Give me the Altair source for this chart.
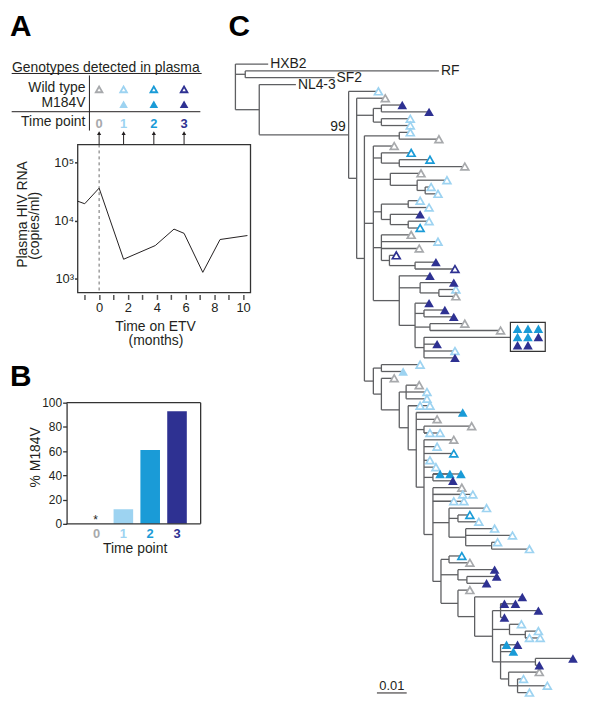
import altair as alt
import pandas as pd

FONT = "Liberation Sans"
INK = "#231f20"

# ---------------- shared categories ----------------
tp_labels = ["0", "1", "2", "3"]
tp_colors = ["#a7a9ac", "#9dd3f1", "#1a9bd7", "#2e3192"]

# ---------------- Panel A : plasma viral load ----------------
vl_months = [-1.5, -1.0, 0.0, 1.7, 3.9, 5.2, 5.9, 7.2, 8.4, 10.3]
vl_copies = [21500, 19400, 36000, 2150, 3700, 7100, 6000, 1280, 4700, 5500]
tp_months = [0.0, 1.7, 3.8, 5.9]
wt_detected = [1, 1, 1, 1]
m184v_detected = [0, 1, 1, 1]

# ---------------- Panel B : % M184V ----------------
pct_m184v = [0, 12, 61, 93]

# ---------------- Panel C : phylogeny ----------------
# internal nodes (depth in 0.001 substitutions/site)
node_id = ["root", "r1", "n1", "n99", "A", "B", "B1", "B2", "D", "C",
           "E", "E2", "E2a", "E3", "E3a", "E3b", "E4", "E4a", "E4b", "E4c",
           "E5", "E5a", "E5b", "E6", "E6a", "E6b", "E7", "E7a", "E7b", "E7c",
           "F", "F1", "F2", "F3", "F3a", "F4", "F5", "F5a", "F6", "F6a",
           "F7", "G1", "G1a", "G1b", "G1c", "G2", "G2a", "G2b", "G2c", "G3",
           "G4", "G5", "G5a", "G5b", "G5c", "G6", "G6a", "G6b", "G6c"]
node_parent = ["", "root", "root", "n1", "n99", "A", "B", "B", "A", "D",
               "D", "E", "E2", "E", "E3", "E3a", "E", "E4", "E4", "E4b",
               "E", "E5", "E5a", "E", "E6", "E6a", "E6", "E7", "E7", "E7",
               "D", "F", "F", "F2", "F3", "F3", "F4", "F5", "F5", "F6",
               "F6", "F7", "G1", "G1", "G1b", "F7", "G2", "G2", "G2b", "G2",
               "G3", "G4", "G5", "G5", "G5b", "G5", "G6", "G6", "G6b"]
node_depth = [0, 3.3, 8, 38, 40.7, 46.3, 49, 49, 43.3, 55,
              46.3, 49, 55, 52, 61, 63.7, 49, 58, 52, 58,
              49, 51.7, 60.3, 55, 62, 68.3, 60.3, 63.3, 65.3, 63.3,
              46.3, 49, 49, 55, 57.3, 58, 60.7, 63.3, 63.3, 66.3,
              66.3, 71.7, 74.7, 77.3, 86, 69, 71.7, 74.7, 77.7, 74.7,
              80.3, 86.3, 89, 92, 97.3, 89, 100.7, 91.7, 94.7]
# tips, top to bottom; "+" = extra sequence drawn on the same row
tip_parent = ["root", "r1", "r1", "n1", "n99", "A", "B1", "B1", "B2", "B2",
              "C", "C", "E", "E2", "E2a", "E2a", "E3", "E3a", "E3b", "E3b",
              "E4a", "E4a", "E4b", "E4c", "E4c", "E5", "E5", "E5", "E5a", "E5b",
              "E5b", "E6", "E6a", "E6b", "E6b", "E7", "E7a", "E7a", "E7b", "E7b",
              "E7c", "E7c", "E7c", "E7c", "F1", "F1", "F2", "F3a", "F3a", "F3a",
              "F4", "F4", "F5", "F5", "F5a", "F5a", "F5a", "F6", "F6", "F6",
              "F6", "F6", "F6a", "F6a", "F6a", "F6a", "F7", "F7", "F7", "F7",
              "F7", "G1", "G1a", "G1a", "G1b", "G1b", "G1c", "G1c", "G2a", "G2a",
              "G2b", "G2c", "G2c", "G3", "G4", "G5a", "G5a", "G5a", "G5a", "G5b",
              "G5c", "G5c", "G5c", "G6", "G6", "G6", "G6a", "G6a", "G6b", "G6c",
              "G6c", "G6c"]
tip_depth = [11, 68.3, 33.3, 20.3, 48, 50.3, 56, 65, 58.7, 58.7,
             58.7, 68.3, 53.3, 59, 65.3, 77, 62.3, 71, 65.7, 68,
             62, 65, 62, 65, 62, 59, 68, 61.7, 54, 67.3,
             73.7, 65.3, 73.3, 74, 74, 65, 70.3, 73.3, 77, 89,
             92.3, 67.7, 73.7, 73.7, 62, 56.3, 53.3, 61.7, 64.3, 64.3,
             62, 65.3, 76.3, 67.7, 79.3, 65.3, 68.7, 73.3, 67.7, 73.3,
             65.3, 67.3, 68.7, 72, 75.7, 73, 76, 76.3, 79.7, 73.3,
             76.7, 84.3, 78.7, 81.7, 87, 93, 88, 98.7, 76, 78.7,
             87, 87.7, 84.3, 78.7, 96.3, 90.3, 94, 101.7, 90.3, 96,
             101.7, 98.7, 102.3, 91, 94.7, 93.3, 113.3, 102, 102, 96.7,
             104.7, 98.7]
tip_code = ["HXB2", "RF", "SF2", "NL4-3", "w1", "w0", "m3", "m3", "w1", "w1",
            "w1", "w0", "w0", "w2", "w2", "w0", "w0", "w1", "w1", "w1",
            "w1", "w1", "m3", "w1", "w2", "w0", "w1", "w0", "w3", "m3",
            "w3", "m3", "m3", "w1", "w0", "m3", "m3", "m3", "w0", "w0",
            "box", "m3", "w1", "m3", "w1", "m1", "w0", "w0", "w1", "w1",
            "w1", "w1+", "m2", "w0", "w0", "w1", "w1+", "w0", "w1", "w2",
            "w1", "w1", "m2", "m2+", "m2+", "m3", "w0", "w1", "w1+", "w1",
            "w1+", "w1", "w2", "w1", "w1", "w1", "w1", "w1", "w2", "w0",
            "m3", "m3", "m3", "w0", "m3", "m3", "m3+", "m3", "m3", "w1",
            "w1", "w1", "w1+", "m2", "m3+", "m2", "m3", "m3", "w0", "w1",
            "w1", "w1"]
ref_strains = ["HXB2", "RF", "SF2", "NL4-3"]
box_genotypes = ["m2", "m2", "m2", "m2", "m2", "m3", "m3", "m3"]
support_node = ["n99"]
support_value = ["99"]
scale_bar_length = 10  # = 0.01 substitutions/site

# ======================================================================
color_scale = alt.Scale(domain=tp_labels, range=tp_colors)


def label(s, x, y, size=14, weight="normal", align="left", baseline="middle",
          color=INK, angle=0):
    return alt.Chart(pd.DataFrame({"t": [s]})).mark_text(
        fontSize=size, fontWeight=weight, align=align, baseline=baseline,
        color=color, font=FONT, angle=angle
    ).encode(text="t:N", x=alt.value(x), y=alt.value(y))


def hline(x1, x2, y, color=INK, width=1.0):
    return alt.Chart(pd.DataFrame({"k": [0]})).mark_rule(
        color=color, strokeWidth=width
    ).encode(x=alt.value(x1), x2=alt.value(x2), y=alt.value(y))


def vline(x, y1, y2, color=INK, width=1.0):
    return alt.Chart(pd.DataFrame({"k": [0]})).mark_rule(
        color=color, strokeWidth=width
    ).encode(x=alt.value(x), y=alt.value(y1), y2=alt.value(y2))


# ---------------- Panel A ----------------
W_A, H_A = 174, 149
df_vl = pd.DataFrame({"month": vl_months, "copies": vl_copies})
df_tp = pd.DataFrame({"month": tp_months, "tp": tp_labels,
                      "wt": wt_detected, "mut": m184v_detected})
xsA = alt.Scale(domain=[-1.5, 10.5], nice=False, zero=False)
ysA = alt.Scale(type="log", domain=[577, 203000], nice=False)

line_A = alt.Chart(df_vl).mark_line(color=INK, strokeWidth=1).encode(
    x=alt.X("month:Q", scale=xsA, title="",
            axis=alt.Axis(values=list(range(-1, 11)), tickCount=30, format="d",
                          labelExpr="datum.value % 2 === 0 ? datum.label : ''",
                          labelOverlap=False, labelFlush=False,
                          tickSize=5, tickWidth=1.5, tickColor="#555555",
                          domain=False, grid=False, offset=2, labelPadding=2,
                          labelFontSize=13, labelColor=INK, title="")),
    y=alt.Y("copies:Q", scale=ysA, title="",
            axis=alt.Axis(values=[1000, 10000, 100000], tickCount=10,
                          labelExpr="datum.value > 50000 ? '10⁵' : datum.value > 5000 ? '10⁴' : '10³'",
                          labelOverlap=False,
                          tickSize=3, tickWidth=1.5, tickColor="#333333",
                          domain=False, grid=False, labelPadding=1,
                          labelFontSize=13, labelColor=INK, title="")),
)
dash_A = alt.Chart(df_tp[df_tp.tp == "0"]).mark_rule(
    color="#444444", strokeWidth=0.8, strokeDash=[3, 3]
).encode(x=alt.X("month:Q", scale=xsA), y=alt.value(0), y2=alt.value(H_A))
arrow_A = alt.Chart(df_tp).mark_rule(color=INK, strokeWidth=1).encode(
    x=alt.X("month:Q", scale=xsA), y=alt.value(0), y2=alt.value(-11))
head_A = alt.Chart(df_tp).mark_point(
    shape="triangle-up", filled=True, size=18, color=INK, opacity=1
).encode(x=alt.X("month:Q", scale=xsA), y=alt.value(-11.5))
tplab_A = alt.Chart(df_tp).mark_text(
    fontSize=13, fontWeight="bold", baseline="middle", font=FONT
).encode(x=alt.X("month:Q", scale=xsA), y=alt.value(-21), text="tp:N",
         color=alt.Color("tp:N", scale=color_scale, legend=None))
wt_A = alt.Chart(df_tp[df_tp.wt == 1]).mark_point(
    shape="triangle-up", filled=True, fill="white", strokeWidth=1.8, size=45,
    opacity=1
).encode(x=alt.X("month:Q", scale=xsA), y=alt.value(-55.5),
         stroke=alt.Stroke("tp:N", scale=color_scale, legend=None))
mut_A = alt.Chart(df_tp[df_tp.mut == 1]).mark_point(
    shape="triangle-up", filled=True, size=75, opacity=1, strokeWidth=0
).encode(x=alt.X("month:Q", scale=xsA), y=alt.value(-40.5),
         color=alt.Color("tp:N", scale=color_scale, legend=None))

chartA = alt.layer(
    line_A, dash_A, arrow_A, head_A, tplab_A, wt_A, mut_A,
    label("Genotypes detected in plasma", -66, -76.5),
    hline(-66.3, 125, -71.5),
    label("Wild type", 8, -56.5, align="right"),
    label("M184V", 8, -41.3, align="right"),
    hline(-66.3, 123.7, -33),
    label("Time point", 8, -23, align="right"),
    vline(12, -69.5, -14),
    label("Plasma HIV RNA", -51, 70.5, align="center", baseline="alphabetic", angle=270),
    label("(copies/ml)", -38.5, 82, align="center", baseline="alphabetic", angle=270),
    label("Time on ETV", 78.5, 187.5, align="center", baseline="alphabetic"),
    label("(months)", 79, 202, align="center", baseline="alphabetic"),
    label("A", -68, -109, size=30, weight="bold", baseline="alphabetic", color="#000000"),
    view=alt.ViewBackground(stroke="#333333", strokeWidth=1.3, strokeOpacity=1),
).properties(width=W_A, height=H_A)

# ---------------- Panel B ----------------
W_B, H_B = 124, 122
df_b = pd.DataFrame({"tp": tp_labels, "pct": pct_m184v})
xsB = alt.Scale(domain=tp_labels, paddingInner=0.27, paddingOuter=0.43, align=0.4)
ysB = alt.Scale(domain=[0, 100], nice=False, zero=True)
bars_B = alt.Chart(df_b).mark_bar().encode(
    x=alt.X("tp:N", scale=xsB, axis=None),
    y=alt.Y("pct:Q", scale=ysB, title="",
            axis=alt.Axis(values=[0, 20, 40, 60, 80, 100], tickCount=20,
                          labelOverlap=False, tickSize=4,
                          tickWidth=1.3, tickColor="#333333", domain=True,
                          domainColor="#333333", domainWidth=1.3, offset=11,
                          grid=False, labelPadding=1, labelFontSize=12,
                          labelColor=INK, title="")),
    color=alt.Color("tp:N", scale=color_scale, legend=None),
)
lab_B = alt.Chart(df_b).mark_text(
    fontSize=13, fontWeight="bold", baseline="middle", font=FONT
).encode(x=alt.X("tp:N", scale=xsB), y=alt.value(132), text="tp:N",
         color=alt.Color("tp:N", scale=color_scale, legend=None))
star_B = alt.Chart(df_b[df_b.pct == 0]).mark_text(
    text="*", fontSize=12, baseline="alphabetic", dy=0, dx=-1, color=INK, font=FONT
).encode(x=alt.X("tp:N", scale=xsB), y=alt.Y("pct:Q", scale=ysB))

chartB = alt.layer(
    bars_B, lab_B, star_B,
    hline(-11, W_B, 0, color="#333333", width=1.3),
    hline(-11, W_B, H_B, color="#333333", width=1.3),
    vline(W_B, 0, H_B, color="#333333", width=1.3),
    label("% M184V", -38, 55, align="center", baseline="alphabetic", angle=270),
    label("Time point", 58, 147, align="center"),
    label("B", -68, -17, size=30, weight="bold", baseline="alphabetic", color="#000000"),
).properties(width=W_B, height=H_B)

# ---------------- Panel C ----------------
rows, r = [], -1
for c in tip_code:
    if not c.endswith("+"):
        r += 1
    rows.append(r)
codes = [c.rstrip("+") for c in tip_code]

depth = dict(zip(node_id, node_depth))
parent = dict(zip(node_id, node_parent))
child_y = {n: [] for n in node_id}
for p, rr in zip(tip_parent, rows):
    child_y[p].append(rr)
node_y = {}
for n in reversed(node_id):
    ys = child_y[n]
    node_y[n] = (min(ys) + max(ys)) / 2
    if parent[n]:
        child_y[parent[n]].append(node_y[n])

edges = []
for n in node_id:
    edges.append((depth[n], depth[n], min(child_y[n]), max(child_y[n])))
    if parent[n]:
        edges.append((depth[parent[n]], depth[n], node_y[n], node_y[n]))
for p, d, rr in zip(tip_parent, tip_depth, rows):
    edges.append((depth[p], d, rr, rr))
df_e = pd.DataFrame(edges, columns=["x1", "x2", "y1", "y2"])

tips = pd.DataFrame({"depth": tip_depth, "code": codes, "row": rows})
geno = tips[tips.code.str.match(r"^[wm][0-3]$")].copy()
geno["tp"] = geno.code.str[1]
open_t = geno[geno.code.str[0] == "w"]
fill_t = geno[geno.code.str[0] == "m"]
refs = tips[tips.code.isin(ref_strains)]

box_row = tips[tips.code == "box"].iloc[0]
bd, br = box_row.depth, box_row.row
df_box = pd.DataFrame({"x1": [bd], "x2": [bd + 11.7], "y1": [br - 2.2], "y2": [br + 2.05]})
df_boxtri = pd.DataFrame({
    "depth": [bd + 2.4 + (i % 3) * 3.5 for i in range(len(box_genotypes))],
    "row": [br - 1.25 + (i // 3) * 1.2 for i in range(len(box_genotypes))],
    "tp": [g[1] for g in box_genotypes],
})
df_sup = pd.DataFrame({"depth": [depth[n] for n in support_node],
                       "row": [node_y[n] for n in support_node],
                       "t": support_value})
df_bar = pd.DataFrame({"x1": [47.5], "x2": [47.5 + scale_bar_length],
                       "row": [92.05], "t": ["0.01"]})

# the tree panel shares the first grid row with panel A: its plot area is
# as tall as A's, and the rest of the tree continues below it (no clipping)
W_C, H_C = 318, H_A
PX_PER_ROW = 6.88
row_top = 11.773
xsC = alt.Scale(domain=[8, 114], nice=False, zero=False)
ysC = alt.Scale(domain=[row_top, row_top + H_C / PX_PER_ROW], reverse=True,
                nice=False, zero=False)
XC = lambda f: alt.X(f, type="quantitative", scale=xsC, axis=None)
YC = lambda f: alt.Y(f, type="quantitative", scale=ysC, axis=None)

edges_C = alt.Chart(df_e).mark_rule(color="#5e5f62", strokeWidth=1.3).encode(
    x=XC("x1"), x2="x2:Q", y=YC("y1"), y2="y2:Q")
refs_C = alt.Chart(refs).mark_text(
    align="left", baseline="middle", dx=2, fontSize=14, color=INK, font=FONT
).encode(x=XC("depth"), y=YC("row"), text="code:N")
open_C = alt.Chart(open_t).mark_point(
    shape="triangle-up", filled=True, fill="white", strokeWidth=1.7, size=62,
    opacity=1
).encode(x=XC("depth"), y=YC("row"),
         stroke=alt.Stroke("tp:N", scale=color_scale, legend=None))
fill_C = alt.Chart(fill_t).mark_point(
    shape="triangle-up", filled=True, size=95, opacity=1, strokeWidth=0
).encode(x=XC("depth"), y=YC("row"),
         color=alt.Color("tp:N", scale=color_scale, legend=None))
box_C = alt.Chart(df_box).mark_rect(fill="white", stroke="#333333", strokeWidth=1.2).encode(
    x=XC("x1"), x2="x2:Q", y=YC("y1"), y2="y2:Q")
boxtri_C = alt.Chart(df_boxtri).mark_point(
    shape="triangle-up", filled=True, size=95, opacity=1, strokeWidth=0
).encode(x=XC("depth"), y=YC("row"),
         color=alt.Color("tp:N", scale=color_scale, legend=None))
sup_C = alt.Chart(df_sup).mark_text(
    align="right", baseline="middle", dx=-3, dy=-8, fontSize=14, color=INK, font=FONT
).encode(x=XC("depth"), y=YC("row"), text="t:N")
bar_C = alt.Chart(df_bar).mark_rule(color=INK, strokeWidth=1).encode(
    x=XC("x1"), x2="x2:Q", y=YC("row"))
bartxt_C = alt.Chart(df_bar).transform_calculate(mid="(datum.x1 + datum.x2) / 2").mark_text(
    align="center", baseline="alphabetic", dy=-3, fontSize=13, color=INK, font=FONT
).encode(x=XC("mid"), y=YC("row"), text="t:N")

chartC = alt.layer(
    edges_C, refs_C, box_C, open_C, fill_C, boxtri_C, sup_C, bar_C, bartxt_C,
    label("C", -31, -109, size=30, weight="bold", baseline="alphabetic", color="#000000"),
).properties(width=W_C, height=H_C)

chart = alt.concat(
    chartA, chartC, chartB, columns=2,
    spacing={"row": 111, "column": 9}, bounds="flush",
    padding={"left": 1, "top": 1, "right": 2, "bottom": 2},
).configure(font=FONT).configure_view(stroke="transparent")

chart.save("out.html", embed_options={"renderer": "svg", "actions": False})
